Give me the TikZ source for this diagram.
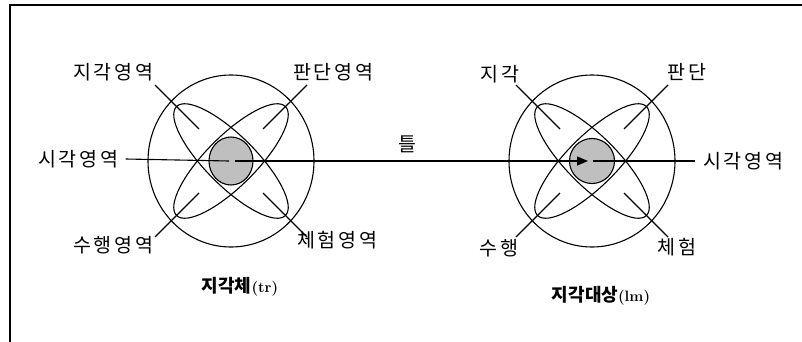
\documentclass[tikz,border=0pt]{standalone}
\usepackage{fontspec}
\usepackage{tikz}
\usetikzlibrary{arrows.meta}
\newfontfamily\kr[LetterSpace=14]{Noto Sans CJK KR}
\newfontfamily\krtitle{Noto Sans CJK KR}

\begin{document}
\begin{tikzpicture}[x=1pt, y=-1pt, line width=1.1pt,
  lab/.style={font=\kr\fontsize{19.5}{20}\selectfont, inner sep=1pt},
  ttl/.style={font=\krtitle\bfseries\fontsize{18}{18}\selectfont, inner sep=1pt},
  hub/.style={draw, fill=black!25}]
  \useasboundingbox (0,0) rectangle (802,342);
  \draw[line width=2pt] (10,342) -- (10,5) -- (802,5);

  % trajector (left)
  \coordinate (Lc) at (231,161);
  \draw (Lc) ellipse (83 and 86);
  \draw[rotate around={45:(Lc)}] (Lc) ellipse (77 and 25);
  \draw[rotate around={-45:(Lc)}] (Lc) ellipse (77 and 25);
  \draw[hub] (Lc) ellipse (22 and 24);
  \foreach \sx/\sy in {-1/-1, 1/-1, -1/1, 1/1}
    \draw ([shift={(\sx*32,\sy*32)}]Lc) -- ([shift={(\sx*76,\sy*76)}]Lc);
  \node[lab] (Lpercep) at (113,72) {지각영역};
  \node[lab] (Ljudge)  at (333,72) {판단영역};
  \node[lab] (Lsight)  at (78,159) {시각영역};
  \node[lab] (Lact)    at (113,245) {수행영역};
  \node[lab] (Lexp)    at (337,240) {체험영역};
  \node[ttl] (Ltitle)  at (240,287) {지각체{\rmfamily\bfseries\fontsize{15}{15}\selectfont(tr)}};
  \draw (Lsight.east) ++(6,0) -- ([xshift=-2]Lc);

  % landmark (right)
  \coordinate (Rc) at (592,161);
  \draw (Rc) ellipse (83 and 86);
  \draw[rotate around={45:(Rc)}] (Rc) ellipse (77 and 25);
  \draw[rotate around={-45:(Rc)}] (Rc) ellipse (77 and 25);
  \draw[hub] (Rc) circle (22.5);
  \foreach \sx/\sy in {-1/-1, 1/-1, -1/1, 1/1}
    \draw ([shift={(\sx*32,\sy*32)}]Rc) -- ([shift={(\sx*76,\sy*76)}]Rc);
  \node[lab] (Rpercep) at (500,74) {지각};
  \node[lab] (Rjudge)  at (687,72) {판단};
  \node[lab] (Rsight)  at (743,161) {시각영역};
  \node[lab] (Ract)    at (499,248) {수행};
  \node[lab] (Rexp)    at (677,247) {체험};
  \node[ttl] (Rtitle)  at (601,296) {지각대상{\rmfamily\bfseries\fontsize{15}{15}\selectfont(lm)}};
  \draw ([xshift=1]Rc) -- ([xshift=-6]Rsight.west);

  % relation
  \node[lab] (frame) at (407,144) {틀};
  \draw[-{Triangle[length=11pt, width=9pt]}] ([xshift=4]Lc) -- ([xshift=-4]Rc);
\end{tikzpicture}
\end{document}
